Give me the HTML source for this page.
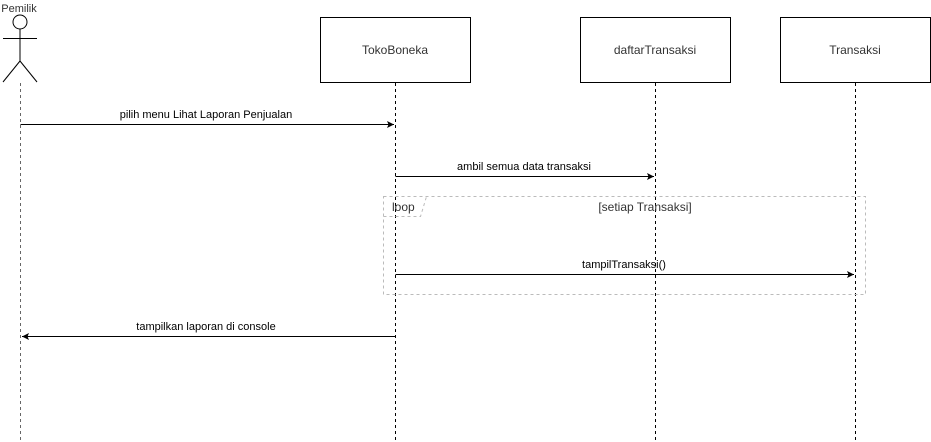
<!DOCTYPE html>
<html><head><meta charset="utf-8"><style>
html,body{margin:0;padding:0;background:#fff;}
svg{display:block;}
text{font-family:"Liberation Sans",Arial,sans-serif;}
</style></head><body>
<svg width="931" height="442" viewBox="0 0 931 442" xmlns="http://www.w3.org/2000/svg">
<defs>
<marker id="a" markerWidth="8" markerHeight="8" refX="7" refY="4" orient="auto" markerUnits="userSpaceOnUse">
<path d="M0,0.5 L7,4 L0,7.5 L1.5,4 Z" fill="#000"/>
</marker>
</defs>
<!-- actor -->
<text x="19" y="12" font-size="11" text-anchor="middle" fill="#333">Pemilik</text>
<circle cx="20" cy="22" r="7" fill="#fff" stroke="#000" stroke-width="1"/>
<line x1="20" y1="29" x2="20" y2="61" stroke="#000"/>
<line x1="3" y1="38.5" x2="37" y2="38.5" stroke="#000"/>
<line x1="20" y1="61" x2="3" y2="82" stroke="#000"/>
<line x1="20" y1="61" x2="37" y2="82" stroke="#000"/>
<line x1="20.5" y1="83" x2="20.5" y2="442" stroke="#666" stroke-dasharray="3,3"/>
<!-- boxes -->
<rect x="320.5" y="17.5" width="150" height="65" fill="#fff" stroke="#000"/>
<text x="395" y="54" font-size="12" text-anchor="middle" fill="#333">TokoBoneka</text>
<rect x="580.5" y="17.5" width="150" height="65" fill="#fff" stroke="#000"/>
<text x="655" y="54" font-size="12" text-anchor="middle" fill="#333">daftarTransaksi</text>
<rect x="780.5" y="17.5" width="150" height="65" fill="#fff" stroke="#000"/>
<text x="855" y="54" font-size="12" text-anchor="middle" fill="#333">Transaksi</text>
<line x1="395.5" y1="83" x2="395.5" y2="442" stroke="#000" stroke-dasharray="3,3"/>
<line x1="655.5" y1="83" x2="655.5" y2="442" stroke="#000" stroke-dasharray="3,3"/>
<line x1="855.5" y1="83" x2="855.5" y2="442" stroke="#000" stroke-dasharray="3,3"/>
<!-- loop -->
<rect x="383.5" y="196.5" width="482" height="98" fill="none" stroke="#bbb" stroke-dasharray="3,3"/>
<path d="M383.5,216.5 L420.5,216.5 L426.5,196.5" fill="none" stroke="#bbb" stroke-dasharray="3,3"/>
<text x="392" y="211" font-size="12" fill="#333">loop</text>
<text x="645" y="211" font-size="12" text-anchor="middle" fill="#333">[setiap Transaksi]</text>
<!-- messages -->
<line x1="20.5" y1="124.5" x2="394" y2="124.5" stroke="#000" marker-end="url(#a)"/>
<text x="206" y="118" font-size="11" text-anchor="middle" fill="#000">pilih menu Lihat Laporan Penjualan</text>
<line x1="395.5" y1="176.5" x2="654" y2="176.5" stroke="#000" marker-end="url(#a)"/>
<text x="524" y="170" font-size="11" text-anchor="middle" fill="#000">ambil semua data transaksi</text>
<line x1="395.5" y1="274.5" x2="854" y2="274.5" stroke="#000" marker-end="url(#a)"/>
<text x="624" y="268" font-size="11" text-anchor="middle" fill="#000">tampilTransaksi()</text>
<line x1="395.5" y1="336.5" x2="22" y2="336.5" stroke="#000" marker-end="url(#a)"/>
<text x="206" y="330" font-size="11" text-anchor="middle" fill="#000">tampilkan laporan di console</text>
</svg>
</body></html>
